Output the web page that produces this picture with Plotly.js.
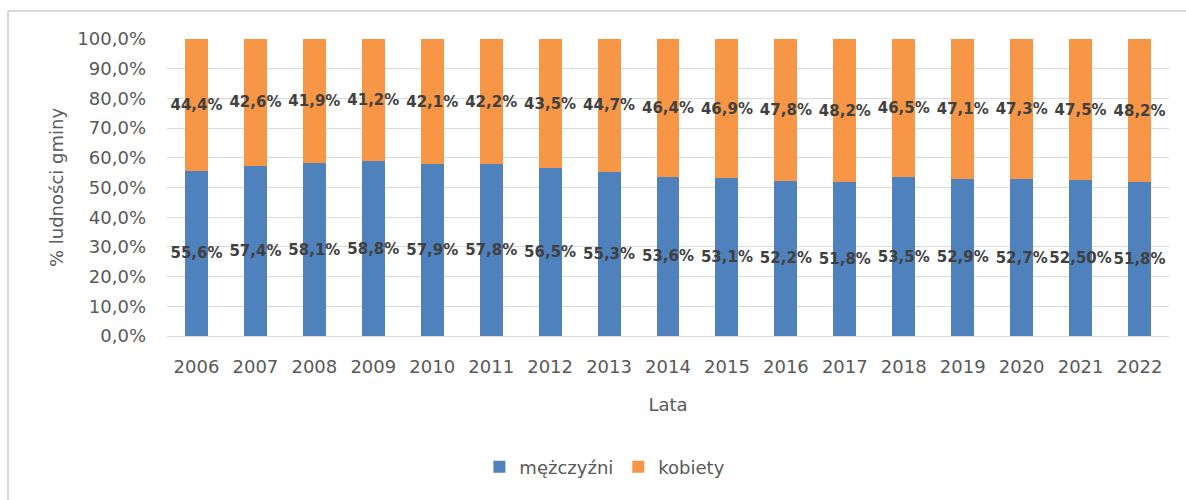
<!DOCTYPE html>
<html>
<head>
<meta charset="utf-8">
<script src="https://cdn.plot.ly/plotly-3.0.1.min.js"></script>
<style>
html,body{margin:0;padding:0;background:#fff;}
#chart{width:1186px;height:500px;}
</style>
</head>
<body>
<div id="chart"></div>
<script>
var years = ['2006','2007','2008','2009','2010','2011','2012','2013','2014','2015','2016','2017','2018','2019','2020','2021','2022'];
var menValues = [55.6,57.4,58.1,58.8,57.9,57.8,56.5,55.3,53.6,53.1,52.2,51.8,53.5,52.9,52.7,52.5,51.8];
var womenValues = [44.4,42.6,41.9,41.2,42.1,42.2,43.5,44.7,46.4,46.9,47.8,48.2,46.5,47.1,47.3,47.5,48.2];
var menLabels = ['55,6%','57,4%','58,1%','58,8%','57,9%','57,8%','56,5%','55,3%','53,6%','53,1%','52,2%','51,8%','53,5%','52,9%','52,7%','52,50%','51,8%'];
var womenLabels = ['44,4%','42,6%','41,9%','41,2%','42,1%','42,2%','43,5%','44,7%','46,4%','46,9%','47,8%','48,2%','46,5%','47,1%','47,3%','47,5%','48,2%'];
var seriesNames = ['mężczyźni','kobiety'];

var labelFont = {family:'DejaVu Sans, sans-serif', size:15, color:'#404040', weight:'bold'};
var common = {type:'bar', x:years, textposition:'inside', insidetextanchor:'middle',
  constraintext:'none', textangle:0, cliponaxis:false, hoverinfo:'skip', textfont:labelFont};

var traces = [
  Object.assign({}, common, {name:seriesNames[0], y:menValues, text:menLabels, marker:{color:'#4F81BD'}}),
  Object.assign({}, common, {name:seriesNames[1], y:womenValues, text:womenLabels, marker:{color:'#F79646'}})
];

var tickFont = {family:'DejaVu Sans, sans-serif', size:18, color:'#595959'};
var layout = {
  width:1186, height:500,
  margin:{l:167, r:17, t:39, b:164},
  paper_bgcolor:'#ffffff', plot_bgcolor:'#ffffff',
  barmode:'stack', bargap:0.61,
  separators:', ',
  showlegend:true,
  legend:{orientation:'h', x:0.437, xanchor:'center', y:-0.441, yanchor:'middle',
    font:tickFont, traceorder:'normal', itemwidth:30},
  xaxis:{type:'category', tickfont:tickFont, showgrid:false, zeroline:false, showline:false,
    ticks:'', ticklabelstandoff:18,
    title:{text:'Lata', font:tickFont, standoff:22}},
  yaxis:{range:[0,100], dtick:10, tickformat:'.1f', ticksuffix:'%', tickfont:tickFont,
    gridcolor:'#d9d9d9', gridwidth:1, zeroline:true, zerolinecolor:'#d9d9d9', showline:false,
    ticks:'', ticklabelstandoff:20,
    title:{text:'% ludności gminy', font:tickFont, standoff:9}},
  shapes:[
    {type:'line', xref:'paper', yref:'paper', x0:-0.1587, x1:1.02, y0:1.0943, y1:1.0943, line:{color:'#d9d9d9', width:2}},
    {type:'line', xref:'paper', yref:'paper', x0:-0.1587, x1:-0.1587, y0:1.0943, y1:-0.56, line:{color:'#d9d9d9', width:2}}
  ]
};
Plotly.newPlot('chart', traces, layout, {displayModeBar:false, staticPlot:true});
</script>
</body>
</html>
